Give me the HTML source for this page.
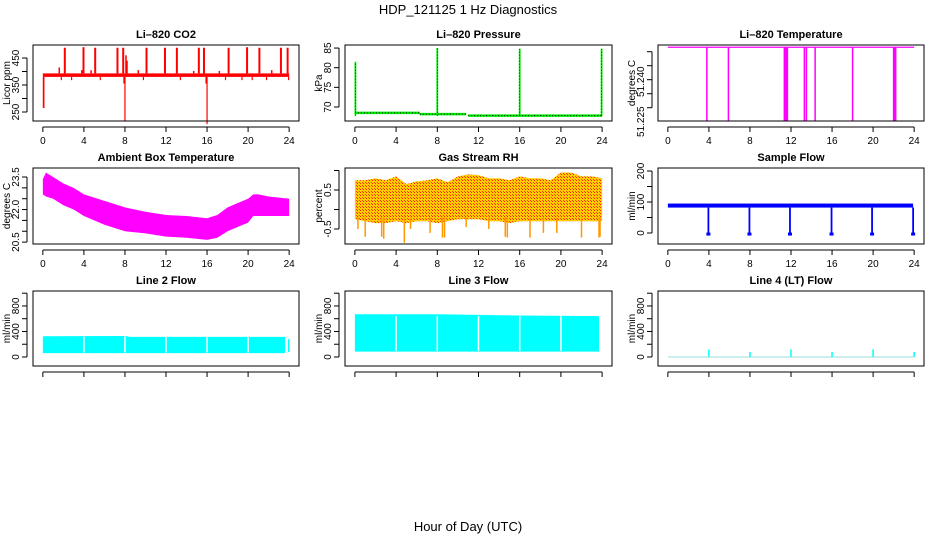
<!DOCTYPE html>
<html><head><meta charset="utf-8"><style>
html,body{margin:0;padding:0;background:#fff;}
svg{display:block;font-family:"Liberation Sans",Arial,sans-serif;}
</style></head><body>
<svg id="chart" width="936" height="540" viewBox="0 0 936 540" xmlns="http://www.w3.org/2000/svg">
<defs>
<pattern id="rhpat" width="3" height="3" patternUnits="userSpaceOnUse">
<rect width="3" height="3" fill="#ffcc00"/><rect x="0" y="0" width="1" height="1" fill="#ff2000"/><rect x="2" y="2" width="1" height="1" fill="#ff4000"/>
</pattern>
</defs>
<text x="468" y="14" text-anchor="middle" font-size="13">HDP_121125  1 Hz Diagnostics</text>
<text x="468" y="531" text-anchor="middle" font-size="13">Hour of Day (UTC)</text>
</svg>
<script>
// ---------- data ----------
const xTicks = [0,4,8,12,16,20,24];
// CO2
const co2BandLow = 380, co2BandHigh = 393;
const co2SpikeHours = [2.14,3.96,5.1,7.27,7.83,10.1,11.9,13.06,15.2,15.7,18.1,19.9,21.1,23.2,23.85];
const co2SpikeTops  = [488,490,488,488,488,488,488,488,488,488,488,490,488,488,488];
const co2BumpHours = [1.6,3.8,4.7,9.3,14.7,17.2,22.3,8.1,8.2];
const co2BumpTops  = [415,405,405,405,402,402,405,460,440];
const co2DipHours = [0.05,0.1,8.0,16.0,1.8,2.8,5.6,9.8,13.4,17.8,19.4,20.4,21.8,23.95,7.9,15.9];
const co2DipValues = [265,265,218,205,368,368,368,368,368,368,368,368,368,368,355,355];
const co2Ticks = [250,300,350,400,450];
const co2Labels = ["250","","350","","450"];
// Pressure
const presSegStart = [0,6.3,11];
const presSegEnd = [6.3,10.8,24];
const presSegVal = [68.5,68.2,67.8];
const presSpikeHours = [0.05,8.0,16.0,23.95];
const presSpikeTops = [81.5,85,84.8,84.8];
const presTicks = [70,75,80,85];
const presLabels = ["70","75","80","85"];
// Li-820 temperature
const tempLevel = 51.2466;
const tempLow = 51.2203;
const tempDropHours = [3.8,5.9,11.35,11.45,11.55,11.65,13.3,13.5,14.35,18.0,22.0,22.1,22.2];
const tempTicks = [51.225,51.230,51.235,51.240,51.245];
const tempLabels = ["51.225","","51.240","",""];
// Ambient box temperature
const ambHours = [0,0.3,1,2,3,4,6,8,10,12,14,16,17,18,19,20,20.5,21,22,24];
const ambTop   = [23.4,23.7,23.5,23.2,23.0,22.7,22.4,22.1,21.9,21.75,21.7,21.6,21.75,22.1,22.3,22.5,22.7,22.7,22.6,22.5];
const ambBot   = [22.7,22.6,22.5,22.2,22.0,21.7,21.3,21.0,20.9,20.75,20.7,20.6,20.7,21.0,21.2,21.4,21.7,21.7,21.7,21.7];
const ambTicks = [20.5,21.0,21.5,22.0,22.5,23.0,23.5];
const ambLabels = ["20.5","","","22.0","","","23.5"];
// Gas stream RH
const rhHours = [0,1,2,3,4,5,6,7,8,9,10,11,12,13,14,15,16,17,18,19,20,21,22,23,24];
const rhTop = [0.75,0.75,0.8,0.75,0.85,0.65,0.72,0.75,0.8,0.7,0.85,0.9,0.88,0.8,0.8,0.75,0.85,0.8,0.8,0.75,0.95,0.95,0.85,0.85,0.8];
const rhBot = [-0.25,-0.3,-0.35,-0.35,-0.3,-0.35,-0.3,-0.3,-0.35,-0.3,-0.25,-0.25,-0.25,-0.3,-0.3,-0.35,-0.3,-0.3,-0.3,-0.3,-0.3,-0.3,-0.3,-0.3,-0.3];
const rhDipHours = [1.0,2.6,2.8,4.8,7.3,8.5,8.7,10.8,14.6,14.8,17.0,18.3,19.6,22.0,23.7,23.8,0.3,5.4,13.0];
const rhDipValues = [-0.7,-0.7,-0.75,-0.85,-0.6,-0.72,-0.72,-0.45,-0.7,-0.72,-0.72,-0.6,-0.6,-0.72,-0.72,-0.7,-0.5,-0.5,-0.5];
const rhTicks = [-0.5,0,0.5,1.0];
const rhLabels = ["-0.5","","0.5",""];
// Sample flow
const sfBandLow = 82, sfBandHigh = 95, sfEnd = 23.9;
const sfDropHours = [3.95,7.95,11.9,15.95,19.9,23.9];
const sfDropValues = [-5,-5,-5,-5,-5,-5];
const sfTicks = [0,50,100,150,200];
const sfLabels = ["0","","100","","200"];
// Line flows
const flowTicks = [0,200,400,600,800,1000];
const flowLabels = ["0","","400","","800",""];
const l2Hours = [0,8,8.5,23.6];
const l2Top = [325,330,315,315];
const l2Bot = [60,60,60,60];
const l2GapHours = [4,8,12,16,20];
const l3Hours = [0,8,12,16,23.7];
const l3Top = [670,670,660,650,640];
const l3Bot = [85,85,85,85,85];
const l3GapHours = [4,8,12,16,20];
const l4Hours = [4,8,12,16,20,24];
const l4Values = [120,80,120,80,120,80];

// ---------- layout ----------
const svg = document.getElementById('chart');
const NS = 'http://www.w3.org/2000/svg';
const colL = [33,345,658], colR = [299,612,924];
const rowT = [45,168,291], rowB = [121,244,366];
function el(tag, attrs, parent){const e=document.createElementNS(NS,tag);for(const k in attrs)e.setAttribute(k,attrs[k]);(parent||svg).appendChild(e);return e;}
function xScale(c){const L=colL[c],R=colR[c],pad=(R-L)*0.04/1.08;const x0=L+pad,x1=R-pad;return h=>x0+(h/24)*(x1-x0);}
function yScale(v0,y0,ppu){return v=>y0-(v-v0)*ppu;}

function panel(c,r,title,ylab,ys,ticks,labels,showX,g,labOff){
  const L=colL[c],R=colR[c],T=rowT[r],B=rowB[r],x=xScale(c);
  const t=el('text',{x:(L+R)/2,y:T-7,'text-anchor':'middle','font-size':11,'font-weight':'bold'},g);t.textContent=title;
  
  
  const yl=el('text',{x:0,y:0,transform:`translate(${L-23},${(T+B)/2}) rotate(-90)`,'text-anchor':'middle','font-size':10},g);yl.textContent=ylab;
  
  
  const ax=el('g',{stroke:'#000','stroke-width':1},g);
  
  
  el('line',{x1:x(0),x2:x(24),y1:B+6,y2:B+6},ax);
  xTicks.forEach(h=>{el('line',{x1:x(h),x2:x(h),y1:B+6,y2:B+11},ax);
    if(showX){const tl=el('text',{x:x(h),y:B+23,'text-anchor':'middle','font-size':10,stroke:'none'},g);tl.textContent=h;
      
      }});
  const ay=el('g',{stroke:'#000','stroke-width':1},g);
  
  
  el('line',{x1:L-6,x2:L-6,y1:ys(ticks[0]),y2:ys(ticks[ticks.length-1])},ay);
  ticks.forEach((v,i)=>{el('line',{x1:L-11,x2:L-6,y1:ys(v),y2:ys(v)},ay);
    if(labels[i]){const off=labOff?labOff[i]:0;const tl=el('text',{x:0,y:0,transform:`translate(${L-14},${ys(v)+off}) rotate(-90)`,'text-anchor':'middle','font-size':10,stroke:'none'},g);tl.textContent=labels[i];
      
      }});
  return {x};
}
function box(c,r,g){const b=el('rect',{x:colL[c],y:rowT[r],width:colR[c]-colL[c],height:rowB[r]-rowT[r],fill:'none',stroke:'#000'},g);
  
  }
function vline(g,x,y1,y2,col,w){el('line',{x1:x,x2:x,y1:y1,y2:y2,stroke:col,'stroke-width':w||1.2},g);}
function band(g,x,ys,hours,top,bot,fill){let p=[];hours.forEach((h,i)=>p.push(x(h)+','+ys(top[i])));for(let i=hours.length-1;i>=0;i--)p.push(x(hours[i])+','+ys(bot[i]));
  el('polygon',{points:p.join(' '),fill:fill},g);}
function mkg(name){const g=el('g',{});return g;}

// CO2
{const g=mkg('panel-co2');const ys=yScale(250,112,0.27);const p=panel(0,0,'Li\u2013820 CO2','Licor ppm',ys,co2Ticks,co2Labels,true,g);const x=p.x;
 const s=mkg('series-co2');g.appendChild(s);
 el('rect',{x:x(0),y:ys(co2BandHigh),width:x(24)-x(0),height:ys(co2BandLow)-ys(co2BandHigh),fill:'#ff0000'},s);
 co2SpikeHours.forEach((h,i)=>vline(s,x(h),ys(co2BandHigh),ys(co2SpikeTops[i]),'#ff0000',2));
 co2BumpHours.forEach((h,i)=>vline(s,x(h),ys(co2BandHigh),ys(co2BumpTops[i]),'#ff0000',1.5));
 co2DipHours.forEach((h,i)=>vline(s,x(h),ys(co2BandLow),ys(co2DipValues[i]),'#ff0000',1.2));
 box(0,0,g);}
// Pressure
{const g=mkg('panel-pressure');const ys=yScale(70,107,3.93);const p=panel(1,0,'Li\u2013820 Pressure','kPa',ys,presTicks,presLabels,true,g);const x=p.x;
 const s=mkg('series-pressure');g.appendChild(s);
 presSegStart.forEach((h,i)=>{el('line',{x1:x(h),x2:x(presSegEnd[i]),y1:ys(presSegVal[i]),y2:ys(presSegVal[i]),stroke:'#00ee00','stroke-width':2.5},s);
   el('line',{x1:x(h),x2:x(presSegEnd[i]),y1:ys(presSegVal[i]),y2:ys(presSegVal[i]),stroke:'#000','stroke-width':1,'stroke-dasharray':'1,2'},s);});
 presSpikeHours.forEach((h,i)=>{const b=ys(presSegVal[presSegVal.length-1]);vline(s,x(h),b,ys(presSpikeTops[i]),'#00ee00',1.8);
   el('line',{x1:x(h),x2:x(h),y1:b,y2:ys(presSpikeTops[i]),stroke:'#000','stroke-width':0.8,'stroke-dasharray':'1,2'},s);});
 box(1,0,g);}
// Li-820 Temperature
{const g=mkg('panel-li820-temperature');const ys=yScale(51.225,107.7,2800);const p=panel(2,0,'Li\u2013820 Temperature','degrees C',ys,tempTicks,tempLabels,true,g,[14,0,2,0,0]);const x=p.x;
 const s=mkg('series-li820-temperature');g.appendChild(s);
 el('line',{x1:x(0),x2:x(24),y1:ys(tempLevel),y2:ys(tempLevel),stroke:'#ff00ff','stroke-width':1.2},s);
 tempDropHours.forEach(h=>vline(s,x(h),ys(tempLevel),Math.min(ys(tempLow),rowB[0]),'#ff00ff',1.5));
 box(2,0,g);}
// Ambient
{const g=mkg('panel-ambient-box-temperature');const ys=yScale(23.5,177,21.7);const p=panel(0,1,'Ambient Box Temperature','degrees C',ys,ambTicks,ambLabels,true,g);
 const s=mkg('series-ambient-temperature');g.appendChild(s);band(s,p.x,ys,ambHours,ambTop,ambBot,'#ff00ff');box(0,1,g);}
// RH
{const g=mkg('panel-gas-stream-rh');const ys=yScale(0,209.5,39);const p=panel(1,1,'Gas Stream RH','percent',ys,rhTicks,rhLabels,true,g);const x=p.x;
 const s=mkg('series-rh');g.appendChild(s);band(s,x,ys,rhHours,rhTop,rhBot,'url(#rhpat)');
 rhDipHours.forEach((h,i)=>vline(s,x(h),ys(-0.2),ys(rhDipValues[i]),'#ff9900',1.5));box(1,1,g);}
// Sample flow
{const g=mkg('panel-sample-flow');const ys=yScale(0,233,0.31);const p=panel(2,1,'Sample Flow','ml/min',ys,sfTicks,sfLabels,true,g);const x=p.x;
 const s=mkg('series-sample-flow');g.appendChild(s);
 el('rect',{x:x(0),y:ys(sfBandHigh),width:x(sfEnd)-x(0),height:ys(sfBandLow)-ys(sfBandHigh),fill:'#0000ff'},s);
 sfDropHours.forEach((h,i)=>{vline(s,x(h),ys(sfBandLow),ys(sfDropValues[i]),'#0000ff',1.8);el('rect',{x:x(h)-2,y:ys(sfDropValues[i])-2,width:4,height:3,fill:'#0000ff'},s);});box(2,1,g);}
// Line 2
{const g=mkg('panel-line2-flow');const ys=yScale(0,357,0.0638);const p=panel(0,2,'Line 2 Flow','ml/min',ys,flowTicks,flowLabels,false,g);const x=p.x;
 const s=mkg('series-line2-flow');g.appendChild(s);band(s,x,ys,l2Hours,l2Top,l2Bot,'#00ffff');
 vline(s,x(23.95),ys(80),ys(280),'#00ffff',1.5);
 l2GapHours.forEach(h=>vline(s,x(h),ys(70),ys(320),'#ffffff',1.5));box(0,2,g);}
// Line 3
{const g=mkg('panel-line3-flow');const ys=yScale(0,357,0.0638);const p=panel(1,2,'Line 3 Flow','ml/min',ys,flowTicks,flowLabels,false,g);const x=p.x;
 const s=mkg('series-line3-flow');g.appendChild(s);band(s,x,ys,l3Hours,l3Top,l3Bot,'#00ffff');
 l3GapHours.forEach(h=>vline(s,x(h),ys(95),ys(640),'#ffffff',1.5));box(1,2,g);}
// Line 4
{const g=mkg('panel-line4-flow');const ys=yScale(0,357,0.0638);const p=panel(2,2,'Line 4 (LT) Flow','ml/min',ys,flowTicks,flowLabels,false,g);const x=p.x;
 const s=mkg('series-line4-flow');g.appendChild(s);
 el('line',{x1:x(0),x2:x(24),y1:ys(0),y2:ys(0),stroke:'#99dddd','stroke-width':1},s);
 l4Hours.forEach((h,i)=>vline(s,x(h),ys(0),ys(l4Values[i]),'#00ffff',1.5));box(2,2,g);}
</script>
</body></html>
